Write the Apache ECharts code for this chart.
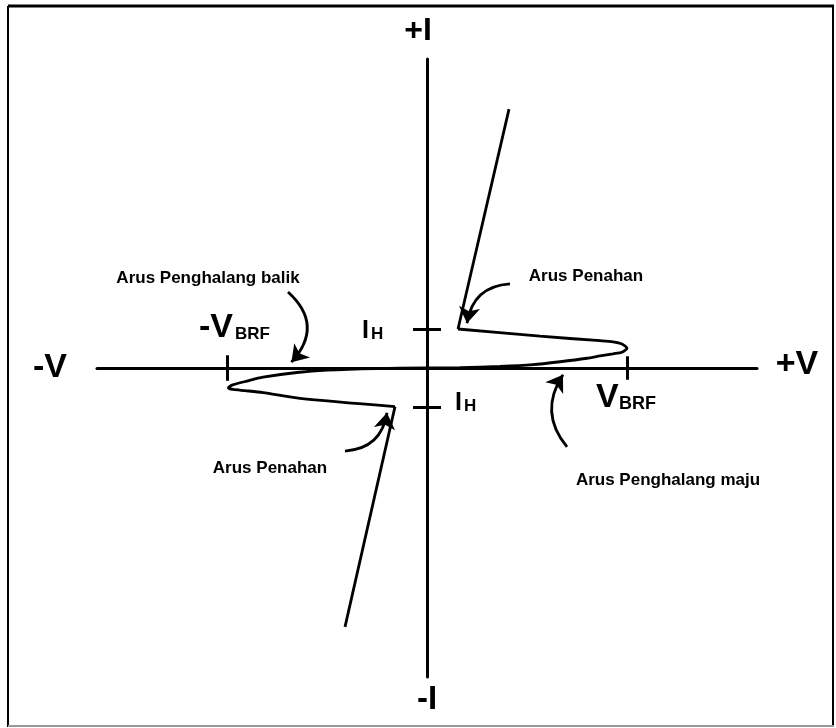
<!DOCTYPE html>
<html>
<head>
<meta charset="utf-8">
<title>Karakteristik V-I</title>
<script src="https://cdn.jsdelivr.net/npm/echarts@6/dist/echarts.min.js"></script>
<style>
  html, body { margin: 0; padding: 0; background: #fff; }
  #main { width: 836px; height: 728px; }
</style>
</head>
<body>
<div id="main"></div>
<script>
// satuan: V_BRF = 10, I_H = 2
var vRange = [-16.5, 16.5];
var iRange = [-15.85, 15.85];
var vBrf = 10;
var iH = 2;

// kuadran I
var upperRise = [[4.1, 13.28], [1.55, 2.0]];
var upperLoop = [[1.55, 2.0], [5.65, 1.63], [8.65, 1.4], [9.3, 1.34], [9.75, 1.23], [10.0, 1.01],
    [9.75, 0.81], [9.3, 0.73], [8.65, 0.62], [8.0, 0.5], [6.65, 0.32], [5.3, 0.17],
    [3.65, 0.08], [1.65, 0.02], [0, 0]];
// kuadran III
var lowerRise = [[-4.1, -13.28], [-1.6, -1.98]];
var lowerLoop = [[-1.6, -1.98], [-6.35, -1.56], [-8.2, -1.26], [-9.1, -1.16], [-9.7, -1.1],
    [-9.93, -1.02], [-9.75, -0.88], [-9.0, -0.67], [-8.2, -0.47], [-6.5, -0.23],
    [-5.0, -0.11], [-2.5, -0.03], [0, 0]];

// panah keterangan (ekor -> kepala)
var arrowBalik = [[-6.95, 3.9], [-6.78, 0.3]];
var arrowPenahanAtas = [[4.15, 4.31], [2.0, 2.3]];
var arrowPenahanBawah = [[-4.1, -4.26], [-2.0, -2.3]];
var arrowMaju = [[7.0, -4.05], [6.8, -0.35]];

var axisNames = ['+I', '-I', '-V', '+V'];
var notes = ['Arus Penghalang balik', 'Arus Penahan', 'Arus Penahan', 'Arus Penghalang maju'];

var font = '"Liberation Sans", Arial, sans-serif';

function txt(text, x, y, size, align) {
    return {
        type: 'text', x: x, y: y, silent: true,
        style: {
            text: text, fill: '#000', font: 'bold ' + size + 'px ' + font,
            textAlign: align || 'center', textVerticalAlign: 'middle'
        }
    };
}

function curve(data, smooth) {
    return {
        type: 'line', data: data, symbol: 'none', smooth: smooth, clip: false,
        lineStyle: { color: '#000', width: 2.8 }
    };
}

function arrow(coords, c) {
    return {
        coords: coords,
        lineStyle: { curveness: c }
    };
}

var chart = echarts.init(document.getElementById('main'));
chart.setOption({
    animation: false,
    backgroundColor: '#fff',
    grid: { left: 97, right: 79, top: 59, bottom: 51 },
    xAxis: {
        type: 'value', min: vRange[0], max: vRange[1],
        axisLine: { onZero: true, lineStyle: { color: '#000', width: 3 } },
        axisTick: { show: false }, axisLabel: { show: false }, splitLine: { show: false }
    },
    yAxis: {
        type: 'value', min: iRange[0], max: iRange[1],
        axisLine: { onZero: true, lineStyle: { color: '#000', width: 3 } },
        axisTick: { show: false }, axisLabel: { show: false }, splitLine: { show: false }
    },
    series: [
        curve(upperRise, false),
        curve(upperLoop, 0.25),
        curve(lowerRise, false),
        curve(lowerLoop, 0.25),
        {
            // tanda I_H dan V_BRF
            type: 'lines', coordinateSystem: 'cartesian2d',
            lineStyle: { color: '#000', width: 3, opacity: 1 },
            symbol: 'none',
            data: [
                { coords: [[-0.7, iH], [0.7, iH]] },
                { coords: [[-0.7, -iH], [0.7, -iH]] },
                { coords: [[vBrf, -0.6], [vBrf, 0.6]] },
                { coords: [[-vBrf, -0.65], [-vBrf, 0.65]] }
            ]
        },
        {
            type: 'lines', coordinateSystem: 'cartesian2d',
            lineStyle: { color: '#000', width: 2.8, opacity: 1 },
            symbol: ['none', 'arrow'],
            symbolSize: [13, 16],
            data: [
                arrow(arrowBalik, 0.5),
                arrow(arrowPenahanAtas, -0.4),
                arrow(arrowPenahanBawah, -0.4),
                arrow(arrowMaju, 0.37)
            ]
        }
    ],
    graphic: [
        // bingkai
        { type: 'line', shape: { x1: 8, y1: 6, x2: 834, y2: 6 }, style: { stroke: '#000', lineWidth: 3 } },
        { type: 'line', shape: { x1: 8, y1: 6, x2: 8, y2: 727 }, style: { stroke: '#000', lineWidth: 2 } },
        { type: 'line', shape: { x1: 833, y1: 6, x2: 833, y2: 727 }, style: { stroke: '#000', lineWidth: 2 } },
        { type: 'line', shape: { x1: 8, y1: 726, x2: 834, y2: 726 }, style: { stroke: '#999', lineWidth: 2 } },

        txt(axisNames[0], 418, 31, 32),
        txt(axisNames[1], 427, 700, 33),
        txt(axisNames[2], 50, 368, 34),
        txt(axisNames[3], 797, 365, 34),

        txt('I', 362, 331, 25, 'left'),
        txt('H', 371, 334, 17, 'left'),
        txt('I', 455, 403, 25, 'left'),
        txt('H', 464, 406, 17, 'left'),

        txt('-V', 199, 328, 34, 'left'),
        txt('BRF', 235, 334, 17, 'left'),
        txt('V', 596, 398, 34, 'left'),
        txt('BRF', 619, 404, 18, 'left'),

        txt(notes[0], 208, 278, 17),
        txt(notes[1], 586, 276, 17),
        txt(notes[2], 270, 468, 17),
        txt(notes[3], 668, 480, 17)
    ]
});
window.onresize = function () {
    chart.resize();
};
</script>
</body>
</html>
